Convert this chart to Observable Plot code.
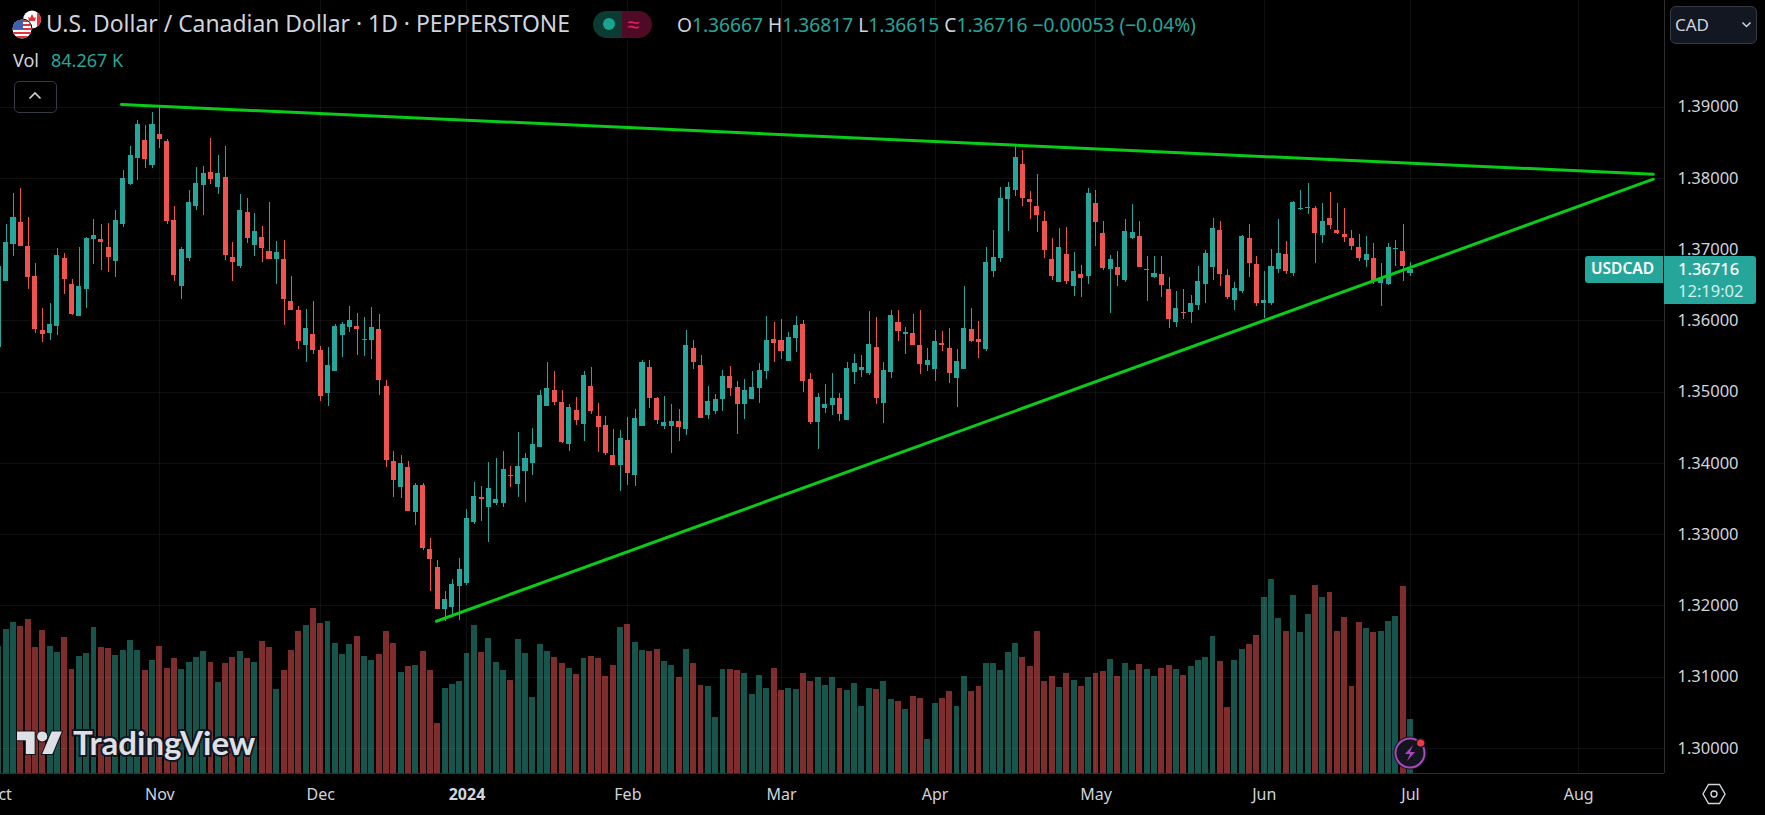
<!DOCTYPE html>
<html><head><meta charset="utf-8">
<script src="https://cdn.jsdelivr.net/npm/d3@7"></script>
<script src="https://cdn.jsdelivr.net/npm/@observablehq/plot@0.6"></script>
<style>
html,body{margin:0;padding:0;background:#000;overflow:hidden}
#stage{position:relative;width:1765px;height:815px;overflow:hidden;background:#000;font-family:"Noto Sans",sans-serif;color:#d1d4dc}
#stage svg.layer{position:absolute;left:0;top:0}
.t{position:absolute;white-space:nowrap;line-height:1}
.v{color:#26a69a}
</style></head><body>
<div id="stage"></div>
<script>
const highs=[
1.3683,1.37356,1.3779,1.37851,1.37445,1.368,1.3617,1.3624,1.37011,1.3694,
1.36576,1.37025,1.37165,1.37417,1.37347,1.37361,1.37543,1.38103,1.3844,1.38804,
1.38734,1.3893,1.39,1.38538,1.37599,1.37025,1.37823,1.38145,1.38159,1.38552,
1.38313,1.3844,1.37095,1.37767,1.37711,1.37501,1.37319,1.37655,1.37109,1.37123,
1.36618,1.36198,1.36156,1.36268,1.35638,1.35624,1.35946,1.35974,1.36198,1.361,
1.36044,1.36184,1.36086,1.35161,1.34159,1.34103,1.34019,1.33711,1.33711,1.3294,
1.32632,1.32198,1.32366,1.3266,1.33346,1.33725,1.33669,1.34005,1.34061,1.34159,
1.33949,1.34439,1.34131,1.34495,1.35028,1.3542,1.35294,1.35028,1.34831,1.34929,
1.35294,1.3535,1.34845,1.34663,1.34481,1.34467,1.34649,1.34761,1.35448,1.35448,
1.34929,1.34943,1.34831,1.34761,1.3586,1.3572,1.3551,1.35075,1.34963,1.35299,
1.35355,1.35145,1.35173,1.35285,1.35397,1.36056,1.35972,1.36014,1.35831,1.36056,
1.36,1.35257,1.34977,1.35103,1.35257,1.34977,1.35411,1.35523,1.3551,1.36126,
1.36042,1.35411,1.3614,1.3614,1.35902,1.36084,1.3614,1.35607,1.3586,1.35845,
1.35888,1.35593,1.36476,1.36168,1.35986,1.37033,1.37271,1.37873,1.37943,1.38462,
1.38392,1.37817,1.38056,1.37537,1.37159,1.37299,1.37313,1.36963,1.36781,1.37859,
1.37832,1.37397,1.36921,1.36977,1.37425,1.37635,1.37397,1.36907,1.36907,1.36907,
1.36613,1.36416,1.36444,1.3636,1.36767,1.36991,1.37439,1.37397,1.36725,1.36542,
1.37201,1.37355,1.36907,1.36697,1.37005,1.37425,1.37117,1.37677,1.37832,1.37929,
1.37607,1.37649,1.37803,1.37649,1.37579,1.37271,1.37215,1.37187,1.37089,1.36809,
1.37089,1.37131,1.37355,1.36817];
const lows=[
1.3555,1.36548,1.36898,1.37039,1.36436,1.3582,1.35694,1.35722,1.35792,1.36366,
1.36072,1.36058,1.3617,1.36786,1.36702,1.36674,1.36604,1.37305,1.37893,1.37963,
1.38131,1.38131,1.38412,1.37347,1.36548,1.36296,1.36828,1.37543,1.37473,1.37907,
1.37767,1.36842,1.36548,1.3673,1.37081,1.36898,1.36814,1.36856,1.36506,1.35932,
1.36142,1.35596,1.35414,1.35525,1.34872,1.34802,1.35287,1.35484,1.35834,1.35511,
1.35497,1.35455,1.34951,1.33947,1.33514,1.335,1.33318,1.33122,1.32772,1.32198,
1.31945,1.31778,1.31833,1.31791,1.32282,1.33136,1.33178,1.32884,1.33402,1.33374,
1.33655,1.33514,1.33444,1.33823,1.34215,1.34803,1.34817,1.34285,1.34159,1.34537,
1.34313,1.34691,1.34145,1.34103,1.33963,1.33598,1.33683,1.33669,1.34523,1.34775,
1.34551,1.34481,1.34131,1.34313,1.34388,1.35313,1.34627,1.34613,1.34683,1.34725,
1.34935,1.34402,1.34613,1.34893,1.34837,1.35173,1.35411,1.35453,1.35425,1.35551,
1.34991,1.34543,1.34192,1.34697,1.34669,1.34585,1.34599,1.35103,1.35201,1.35229,
1.34823,1.34557,1.35187,1.35705,1.35523,1.35649,1.35243,1.35285,1.35145,1.35565,
1.35117,1.34781,1.35313,1.35691,1.35467,1.35576,1.36613,1.36823,1.37257,1.37747,
1.37607,1.37425,1.37243,1.36879,1.3657,1.36542,1.36514,1.36346,1.36332,1.36514,
1.37047,1.36711,1.36108,1.36486,1.36542,1.37145,1.36753,1.36276,1.36599,1.36332,
1.35898,1.35912,1.36024,1.35968,1.3615,1.36248,1.3657,1.36486,1.36304,1.3615,
1.36388,1.36613,1.36206,1.36033,1.3622,1.36669,1.36655,1.36627,1.37551,1.37495,
1.36809,1.37089,1.37285,1.37215,1.37103,1.36991,1.36837,1.36753,1.36514,1.36206,
1.365,1.36767,1.36556,1.36615];
const opens=[
1.35628,1.36548,1.37067,1.37375,1.37039,1.36618,1.35862,1.3582,1.35918,1.3687,
1.36506,1.36058,1.36436,1.37137,1.37137,1.37025,1.36828,1.37347,1.37907,1.38271,
1.38524,1.38173,1.38608,1.3851,1.37403,1.36478,1.3687,1.37599,1.37893,1.38075,
1.37865,1.38005,1.36884,1.36758,1.37515,1.37053,1.37165,1.36968,1.36856,1.36856,
1.36268,1.36142,1.35652,1.35806,1.35581,1.34979,1.35287,1.35792,1.35904,1.35918,
1.35722,1.35722,1.35876,1.35077,1.34019,1.33655,1.33935,1.33304,1.33683,1.32786,
1.32534,1.31945,1.31973,1.32268,1.3231,1.33164,1.33514,1.33374,1.3343,1.3343,
1.33823,1.33697,1.33879,1.33991,1.34215,1.34803,1.35028,1.34859,1.34271,1.34747,
1.34551,1.35084,1.34663,1.34537,1.34103,1.33963,1.34327,1.33823,1.34523,1.3535,
1.34915,1.34523,1.34523,1.34593,1.34473,1.35607,1.35369,1.34669,1.34725,1.34893,
1.35215,1.35061,1.34823,1.34893,1.35047,1.35285,1.35733,1.3572,1.35425,1.35747,
1.35944,1.35173,1.34571,1.34767,1.34809,1.34907,1.34599,1.35271,1.35299,1.35257,
1.35621,1.34837,1.35271,1.35972,1.35803,1.35817,1.35649,1.35369,1.35313,1.35677,
1.35607,1.35187,1.35313,1.35874,1.35733,1.35604,1.36697,1.36879,1.37705,1.37831,
1.38196,1.37705,1.37607,1.37397,1.36865,1.36542,1.36935,1.36486,1.36655,1.36627,
1.37649,1.37229,1.36725,1.36753,1.3657,1.37159,1.37187,1.36711,1.36613,1.36655,
1.36444,1.35982,1.36122,1.36122,1.3622,1.36514,1.36753,1.37271,1.36641,1.3629,
1.36416,1.37159,1.36795,1.36248,1.36248,1.36725,1.36935,1.36669,1.37565,1.37579,
1.37579,1.37201,1.37439,1.37271,1.37215,1.37159,1.37033,1.36851,1.36879,1.36528,
1.36514,1.37005,1.36977,1.36667];
const closes=[
1.36758,1.37095,1.37445,1.37039,1.36604,1.35876,1.35806,1.35946,1.36912,1.36576,
1.36086,1.36478,1.37151,1.37193,1.37095,1.36884,1.37403,1.37991,1.38313,1.38748,
1.38257,1.38748,1.38538,1.37389,1.36632,1.36997,1.37655,1.37921,1.38061,1.37977,
1.38061,1.36912,1.36814,1.37543,1.37151,1.37249,1.37011,1.36856,1.36954,1.36296,
1.36142,1.35708,1.3589,1.35581,1.34937,1.35371,1.35918,1.35946,1.36002,1.35876,
1.35736,1.35904,1.35161,1.3404,1.33753,1.33991,1.33318,1.33683,1.328,1.32646,
1.31945,1.32085,1.32296,1.32506,1.3322,1.33528,1.33486,1.33641,1.33486,1.33907,
1.33809,1.33949,1.34061,1.34271,1.34957,1.35056,1.34859,1.34299,1.34789,1.34607,
1.35238,1.34733,1.34509,1.34131,1.33963,1.34355,1.33851,1.34635,1.3542,1.34915,
1.34607,1.34579,1.34593,1.34509,1.35649,1.35411,1.34627,1.34865,1.34893,1.35215,
1.35047,1.34823,1.35019,1.35061,1.35299,1.3572,1.35677,1.35565,1.35761,1.3593,
1.35145,1.34571,1.34921,1.34823,1.34907,1.34683,1.35327,1.35397,1.35341,1.35663,
1.34907,1.35299,1.3607,1.35845,1.35831,1.35649,1.35383,1.35439,1.35705,1.35649,
1.35257,1.35425,1.35888,1.35705,1.35691,1.36823,1.36893,1.37719,1.37873,1.38294,
1.37719,1.37663,1.37481,1.36991,1.36627,1.37033,1.36556,1.36697,1.36599,1.37789,
1.37383,1.36739,1.36865,1.36641,1.37257,1.37243,1.36753,1.36725,1.36669,1.365,
1.36024,1.36178,1.36108,1.36248,1.36556,1.36949,1.37299,1.36655,1.36332,1.36458,
1.37187,1.36809,1.36248,1.3629,1.36767,1.36949,1.36697,1.37663,1.37579,1.37593,
1.37229,1.37397,1.37341,1.37229,1.37173,1.37047,1.36879,1.36935,1.3657,1.36585,
1.37033,1.37019,1.36767,1.36716];
const volumesK=[
198.6,225.2,236.1,229.8,240.8,197.1,223.6,198.6,189.3,212.7,
162.8,183,187.7,228.3,197.1,195.5,184.6,192.4,208,192.4,
161.2,176.8,198.6,164.3,179.9,162.8,173.7,181.5,190.8,173.7,
142.5,172.1,181.5,190.8,179.9,173.7,206.4,197.1,131.6,161.2,
192.4,222,231.4,257.9,234.5,237.6,203.3,186.2,201.8,214.2,
183,176.8,186.2,222,203.3,158.1,167.4,169,190.8,161.2,
78.5,133.1,139.4,144,187.7,231.4,189.3,211.1,173.7,161.2,
145.6,209.6,187.7,119.1,201.8,190.8,181.5,172.1,164.3,155,
179.9,183,179.9,151.8,169,228.3,232.4,204.4,191.9,190.3,
193.4,174.7,168.5,149.8,193.4,171.6,137.3,135.7,87.4,162.2,
162.2,160.7,156,123.2,152.9,132.6,163.8,129.5,132.6,131,
156,143.5,149.8,137.3,149.8,132.6,129.5,140.4,104.5,132.6,
131,143.5,115.4,112.3,99.8,120.1,117,53,109.2,117,
127.9,104.5,151.3,127.9,135.7,171.6,171.6,160.7,188.8,202.8,
181,166.9,221.5,143.5,151.3,134.2,156,145.1,135.7,149.8,
156,159.1,177.8,151.3,171.6,160.7,170,162.2,151.3,163.8,
168.5,162.2,152.9,166.9,176.3,181,213.7,174.7,103,176.3,
193.4,201.2,215.3,274.6,302.6,241.8,221.5,277.7,220,248,
293.3,274.6,282.4,221.5,243.4,135.7,235.6,226.2,220,221.5,
237.1,244.9,291.7,84.267];
// first session in the arrays sits 22 sessions before 1 Nov 2023 (session 0)
const firstSession=-22;
const monthSessions=[-22,0,22,42,64,85,106,128,151,171,194];
const monthLabels=["Oct","Nov","Dec","2024","Feb","Mar","Apr","May","Jun","Jul","Aug"];
const priceTicks=[1.30,1.31,1.32,1.33,1.34,1.35,1.36,1.37,1.38,1.39];
// trend lines [session, price]
const upperTrend=[[-5.24,1.39035],[204.2,1.38057]];
const lowerTrend=[[37.82,1.31784],[204.2,1.37987]];

const UP="#26a69a",DOWN="#ef5350",VUP="#16544c",VDOWN="#7f2c2c",TREND="#0acb17";
const bars=opens.map((o,k)=>({s:firstSession+k,o,c:closes[k],h:highs[k],l:lows[k],v:volumesK[k]}));
const W=1765,H=815,MR=101,MB=42;
const xDomain=[-21.78,205.73];
const xOpt={domain:xDomain,range:[0,W-MR]};

const volPlot=Plot.plot({width:W,height:H,marginLeft:0,marginRight:MR,marginTop:0,marginBottom:MB,
  x:{...xOpt,axis:null},y:{domain:[0,1205.9],range:[H-MB,0],axis:null},color:{type:"identity"},
  style:{background:"transparent"},
  marks:[Plot.rect(bars,{x1:d=>d.s-0.405,x2:d=>d.s+0.405,y1:0,y2:"v",fill:d=>d.c>=d.o?VUP:VDOWN,shapeRendering:"crispEdges"})]});
volPlot.setAttribute("class","layer");

const pricePlot=Plot.plot({width:W,height:H,marginLeft:0,marginRight:MR,marginTop:0,marginBottom:MB,
  x:{...xOpt},y:{domain:[1.29647,1.40495],range:[H-MB,0]},color:{type:"identity"},
  style:{background:"transparent",fontFamily:'"Noto Sans",sans-serif',fontSize:"16px",color:"#d1d4dc"},
  marks:[
    Plot.ruleY(priceTicks,{stroke:"#fff",strokeOpacity:0.06,shapeRendering:"crispEdges"}),
    Plot.ruleX(monthSessions,{stroke:"#fff",strokeOpacity:0.06,shapeRendering:"crispEdges"}),
    Plot.ruleX(bars,{x:"s",y1:"l",y2:"h",stroke:d=>d.c>=d.o?UP:DOWN,strokeWidth:1,shapeRendering:"crispEdges"}),
    Plot.rect(bars,{x1:d=>d.s-0.345,x2:d=>d.s+0.345,y1:"o",y2:"c",fill:d=>d.c>=d.o?UP:DOWN,shapeRendering:"crispEdges"}),
    Plot.line(upperTrend,{x:d=>d[0],y:d=>d[1],stroke:TREND,strokeWidth:3}),
    Plot.line(lowerTrend,{x:d=>d[0],y:d=>d[1],stroke:TREND,strokeWidth:3}),
    Plot.axisY(priceTicks,{anchor:"right",tickSize:0,tickPadding:13,tickFormat:d=>d.toFixed(5),label:null,fill:"#d1d4dc",fontSize:16.5}),
    Plot.axisX(monthSessions.filter((d,k)=>monthLabels[k]!=="2024"),{tickSize:0,tickPadding:15,tickFormat:d=>monthLabels[monthSessions.indexOf(d)],label:null,fill:"#d1d4dc",fontSize:16}),
    Plot.axisX(monthSessions.filter((d,k)=>monthLabels[k]==="2024"),{tickSize:0,tickPadding:15,tickFormat:d=>monthLabels[monthSessions.indexOf(d)],label:null,fill:"#d1d4dc",fontSize:16,fontWeight:700}),
    Plot.ruleX([xDomain[1]],{stroke:"#2e2e2e",shapeRendering:"crispEdges"}),
    Plot.ruleY([1.29647],{stroke:"#2e2e2e",shapeRendering:"crispEdges"})
  ]});
pricePlot.setAttribute("class","layer");

const stage=document.getElementById("stage");
stage.append(volPlot,pricePlot);
const chrome=document.createElement("div");
chrome.innerHTML=`
<svg style="position:absolute;left:8px;top:8px" width="44" height="34" viewBox="0 0 44 34">
 <defs><clipPath id="us"><circle cx="14" cy="21" r="9.5"/></clipPath><clipPath id="ca"><circle cx="24" cy="11.5" r="9"/></clipPath></defs>
 <g clip-path="url(#ca)"><rect x="14" y="2" width="22" height="20" fill="#fff"/><rect x="29" y="2" width="6" height="20" fill="#e0343c"/><path d="M24 6l2 4 2-1-1 4h-6l-1-4 2 1z" fill="#e0343c"/></g>
 <circle cx="14" cy="21" r="10.5" fill="#000"/>
 <g clip-path="url(#us)"><rect x="4" y="11" width="20" height="20" fill="#fff"/>
  <g fill="#e0343c"><rect x="4" y="12" width="20" height="2"/><rect x="4" y="16" width="20" height="2"/><rect x="4" y="20" width="20" height="2"/><rect x="4" y="24" width="20" height="2"/><rect x="4" y="28" width="20" height="2"/></g>
  <rect x="4" y="11" width="11" height="10" fill="#3c5fb0"/></g>
</svg>
<div class="t" id="title" style="left:46px;top:13px;font-size:22.9px">U.S. Dollar / Canadian Dollar · 1D · PEPPERSTONE</div>
<div class="t" style="left:13px;top:51px;font-size:18px">Vol</div>
<div class="t v" style="left:51px;top:51px;font-size:18px">84.267 K</div>
<div style="position:absolute;left:14px;top:81px;width:41px;height:30px;border:1px solid #363a45;border-radius:5px"></div>
<svg style="position:absolute;left:28px;top:91px" width="14" height="10" viewBox="0 0 14 10"><path d="M1.5 7.5L7 2l5.500 5.5" fill="none" stroke="#d1d4dc" stroke-width="1.6"/></svg>
<div style="position:absolute;left:593px;top:11px;width:29px;height:27px;background:#0b3b33;border-radius:14px 0 0 14px"></div>
<div style="position:absolute;left:603px;top:18px;width:12px;height:12px;background:#1aa38f;border-radius:50%"></div>
<div style="position:absolute;left:622px;top:11px;width:30px;height:27px;background:#4f0a26;border-radius:0 14px 14px 0"></div>
<div class="t" style="left:627px;top:12px;font-size:22px;color:#e91e63">≈</div>
<div class="t" id="ohlc" style="left:677px;top:15px;font-size:19.2px"><span>O</span><span class="v">1.36667</span>&nbsp;<span>H</span><span class="v">1.36817</span>&nbsp;<span>L</span><span class="v">1.36615</span>&nbsp;<span>C</span><span class="v">1.36716</span>&nbsp;<span class="v">−0.00053 (−0.04%)</span></div>
<div style="position:absolute;left:1670px;top:6px;width:85px;height:36px;border:1px solid #363a45;border-radius:6px;background:#131722"></div>
<div class="t" style="left:1675px;top:16px;font-size:17px">CAD</div>
<svg style="position:absolute;left:1741px;top:21px" width="11" height="8" viewBox="0 0 11 8"><path d="M1.5 1.5L5.500 5.500l4-4" fill="none" stroke="#d1d4dc" stroke-width="1.5"/></svg>
<div style="position:absolute;left:1585px;top:256px;width:78px;height:27px;background:#26a69a;border-radius:3px 0 0 3px"></div>
<div class="t" style="left:1591px;top:261px;font-size:15.5px;font-weight:600;color:#fff">USDCAD</div>
<div style="position:absolute;left:1664px;top:256px;width:92px;height:48px;background:#26a69a;border-radius:0 3px 3px 0"></div>
<div class="t" style="left:1678px;top:261px;font-size:16.5px;font-weight:500;color:#fff">1.36716</div>
<div class="t" style="left:1678px;top:283px;font-size:16.5px;color:#d4f0ec">12:19:02</div>
<svg style="position:absolute;left:17px;top:726px" width="58" height="36" viewBox="0 0 46 28"><g fill="#dfe0e6" stroke="#131722" stroke-width="1.6" paint-order="stroke"><path d="M14 22H7V11H0V4h14v18zM28 22h-8l7.500-18h8L28 22z"/><circle cx="20" cy="8" r="4"/></g></svg>
<div class="t" style="left:73px;top:726px;font-size:33px;font-weight:700;color:#dfe0e6;-webkit-text-stroke:4px #131722;paint-order:stroke fill;font-family:Lato,sans-serif">TradingView</div>
<svg style="position:absolute;left:1392px;top:735px" width="38" height="36" viewBox="0 0 38 36"><circle cx="18" cy="18" r="16.5" fill="#14141f"/><circle cx="18" cy="18" r="14.5" fill="#14141f" stroke="#ab47bc" stroke-width="2"/><path d="M21 10l-8 9h5l-3 7 8-9h-5z" fill="#ab47bc"/><circle cx="28.7" cy="8" r="5" fill="#14141f"/><circle cx="28.7" cy="8" r="3.6" fill="#f23645"/></svg>
<svg style="position:absolute;left:1702px;top:783px" width="24" height="22" viewBox="0 0 24 22"><path d="M6.500 1.500h11L23 11l-5.500 9.500h-11L1 11z" fill="none" stroke="#d1d4dc" stroke-width="1.4"/><circle cx="12" cy="11" r="3" fill="none" stroke="#d1d4dc" stroke-width="1.4"/></svg>
`;
stage.append(chrome);
</script>
</body></html>
